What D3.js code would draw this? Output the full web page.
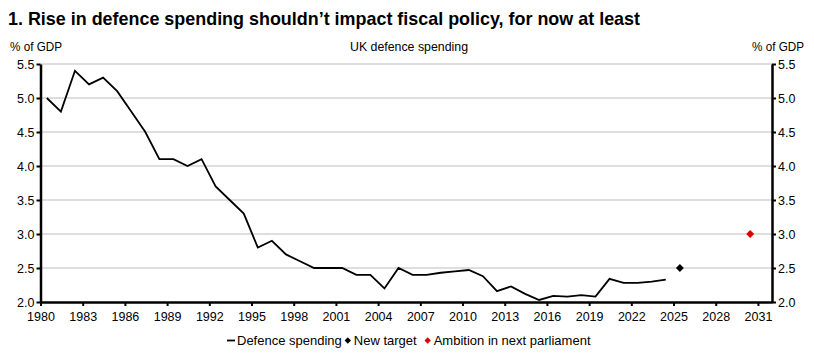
<!DOCTYPE html>
<html>
<head>
<meta charset="utf-8">
<script src="https://cdn.jsdelivr.net/npm/d3@7"></script>
<style>
  body { margin: 0; background: #fff; }
  svg text { font-family: "Liberation Sans Narrow", "Arial Narrow", "Liberation Sans", Arial, sans-serif; fill: #000; }
</style>
</head>
<body>
<div id="chart"></div>
<script>
// ----------- DATA ------------
const years = d3.range(1980, 2025);
const spending = [
  5.0, 4.8, 5.4, 5.2, 5.3, 5.1, 4.8, 4.5, 4.1, 4.1,
  4.0, 4.1, 3.7, 3.5, 3.3, 2.8, 2.9, 2.7, 2.6, 2.5,
  2.5, 2.5, 2.4, 2.4, 2.2, 2.5, 2.4, 2.4, 2.43, 2.45,
  2.47, 2.38, 2.16, 2.23, 2.12, 2.03, 2.09, 2.08, 2.1, 2.08,
  2.34, 2.28, 2.28, 2.3, 2.33
];
const newTarget = [{ year: 2025, value: 2.5 }];
const ambition = [{ year: 2030, value: 3.0 }];
const xTicks = d3.range(1980, 2032, 3);
const yTicks = [2.0, 2.5, 3.0, 3.5, 4.0, 4.5, 5.0, 5.5];

const title = '1. Rise in defence spending shouldn\u2019t impact fiscal policy, for now at least';
const chartTitle = 'UK defence spending';
const unitLabel = '% of GDP';

// ----------- SVG ------------
const W = 814, H = 361;
const margin = { left: 40.5, right: 42, top: 64, bottom: 59 };
const svg = d3.select('#chart').append('svg').attr('width', W).attr('height', H);

const x = d3.scaleLinear().domain([1980, 2032]).range([margin.left, W - margin.right]);
const y = d3.scaleLinear().domain([2, 5.5]).range([H - margin.bottom, margin.top]);
const mid = 0.45; // points sit within their year

svg.append('text').attr('x', 8).attr('y', 25)
  .attr('textLength', 632).attr('lengthAdjust', 'spacingAndGlyphs')
  .style('font-size', '19px').style('font-weight', 'bold').text(title);

svg.append('text').attr('x', 10).attr('y', 51).style('font-size', '13px')
  .attr('textLength', 52).attr('lengthAdjust', 'spacingAndGlyphs').text(unitLabel);
svg.append('text').attr('x', 804).attr('y', 51).attr('text-anchor', 'end').style('font-size', '13px')
  .attr('textLength', 52).attr('lengthAdjust', 'spacingAndGlyphs').text(unitLabel);
svg.append('text').attr('x', 409).attr('y', 51).attr('text-anchor', 'middle').style('font-size', '13px')
  .attr('textLength', 118).attr('lengthAdjust', 'spacingAndGlyphs').text(chartTitle);

// grid
svg.append('g').selectAll('line').data(yTicks.slice(1)).enter().append('line')
  .attr('x1', margin.left).attr('x2', W - margin.right)
  .attr('y1', d => y(d)).attr('y2', d => y(d))
  .attr('stroke', '#d3d3d3').attr('stroke-width', 1.5);

// ----------- AXES ------------
const fmt = d3.format('.1f');
const gl = svg.append('g').attr('transform', `translate(${margin.left},0)`)
  .call(d3.axisLeft(y).tickValues(yTicks).tickFormat(fmt).tickSize(4).tickSizeOuter(0));
const gr = svg.append('g').attr('transform', `translate(${W - margin.right},0)`)
  .call(d3.axisRight(y).tickValues(yTicks).tickFormat(fmt).tickSize(4).tickSizeOuter(0));
const gb = svg.append('g').attr('transform', `translate(0,${H - margin.bottom})`)
  .call(d3.axisBottom(x).tickValues(xTicks).tickFormat(d3.format('d')).tickSize(4).tickSizeOuter(0));

[gl, gr, gb].forEach(g => {
  g.select('.domain').attr('stroke', '#000').attr('stroke-width', 2.5);
  g.selectAll('.tick line').attr('stroke', '#000').attr('stroke-width', 2);
  g.selectAll('.tick text').style('font-size', '12.5px').attr('fill', '#000')
    .style('font-family', '"Liberation Sans Narrow", "Arial Narrow", "Liberation Sans", Arial, sans-serif');
});
gl.selectAll('.tick text').attr('x', -6);
gr.selectAll('.tick text').attr('x', 6);
gb.selectAll('.tick text').attr('y', 10);

// ----------- LINE ------------
const line = d3.line().x((d, i) => x(years[i] + mid)).y(d => y(d));
svg.append('path').datum(spending).attr('d', line)
  .attr('fill', 'none').attr('stroke', '#000').attr('stroke-width', 1.8).attr('stroke-linejoin', 'miter');

const diamond = d3.symbol().type(d3.symbolDiamond2).size(40);
svg.append('g').selectAll('path').data(newTarget).enter().append('path')
  .attr('d', diamond).attr('transform', d => `translate(${x(d.year + mid)},${y(d.value)})`).attr('fill', '#000');
svg.append('g').selectAll('path').data(ambition).enter().append('path')
  .attr('d', diamond).attr('transform', d => `translate(${x(d.year + mid)},${y(d.value)})`).attr('fill', '#e00000');

// ----------- LEGEND ------------
const legend = svg.append('g').attr('transform', 'translate(0,345)');
const items = [
  { label: 'Defence spending', kind: 'line', color: '#000' },
  { label: 'New target', kind: 'diamond', color: '#000' },
  { label: 'Ambition in next parliament', kind: 'diamond', color: '#e00000' },
];
let lx = 227;
const smallDiamond = d3.symbol().type(d3.symbolDiamond2).size(26);
items.forEach((it, i) => {
  if (it.kind === 'line') {
    legend.append('line').attr('x1', lx).attr('x2', lx + 8).attr('y1', -4.5).attr('y2', -4.5)
      .attr('stroke', it.color).attr('stroke-width', 1.8);
  } else {
    legend.append('path').attr('d', smallDiamond).attr('transform', `translate(${lx + 4},-4.5)`).attr('fill', it.color);
  }
  const t = legend.append('text').attr('x', lx + 10).attr('y', 0).style('font-size', '13px').text(it.label);
  lx += 10 + t.node().getComputedTextLength() + (i === 0 ? 2 : 7);
});
</script>
</body>
</html>
